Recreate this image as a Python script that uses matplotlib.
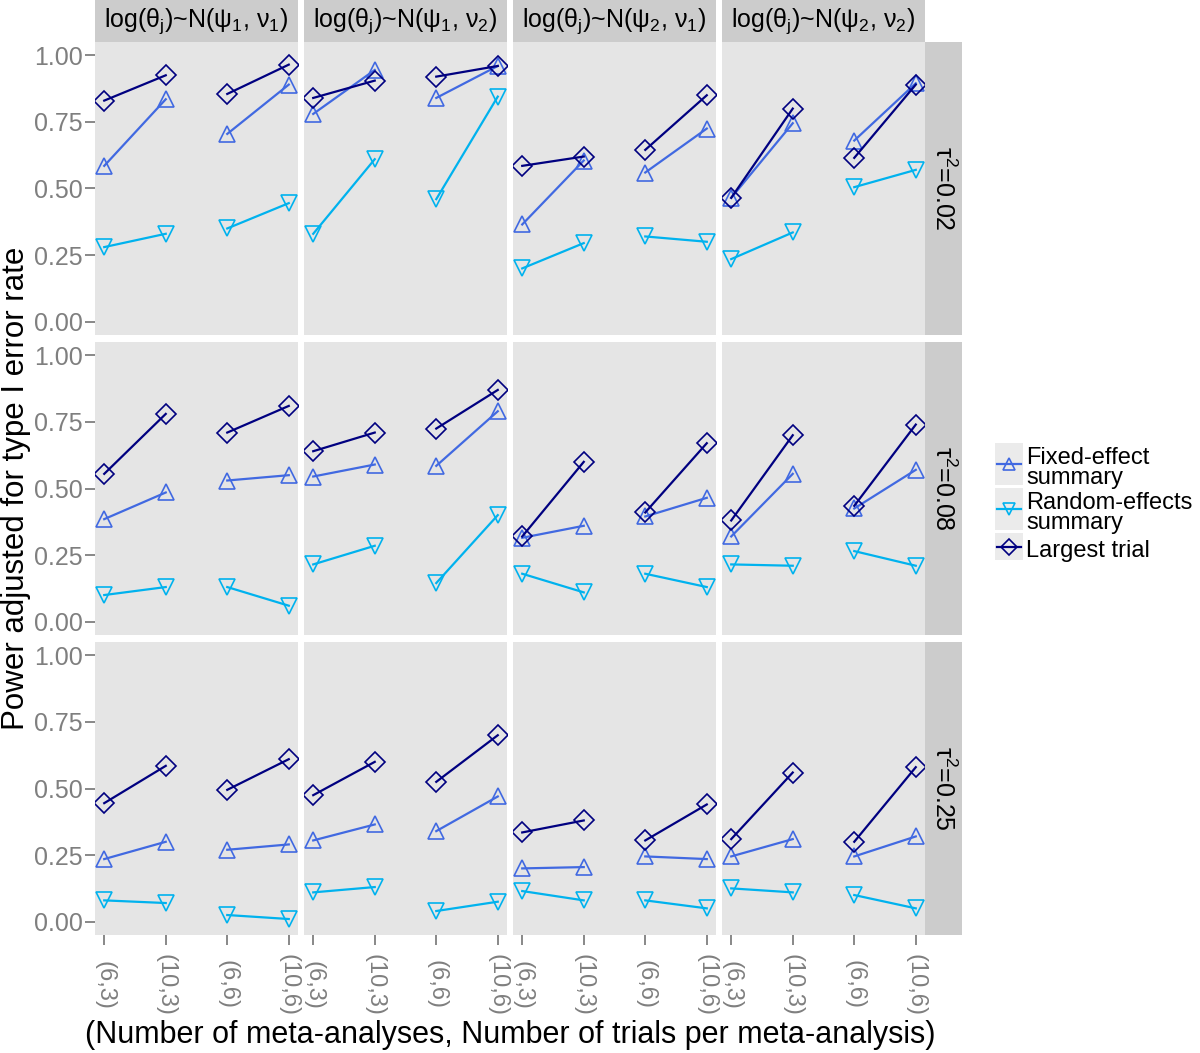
import numpy as np
import matplotlib
matplotlib.use("Agg")
import matplotlib.pyplot as plt
from matplotlib.patches import Rectangle
from matplotlib.lines import Line2D

plt.rcParams['font.family'] = ['Liberation Sans', 'DejaVu Sans']
plt.rcParams['mathtext.fontset'] = 'custom'
plt.rcParams['mathtext.rm'] = 'Liberation Sans'
plt.rcParams['mathtext.it'] = 'Liberation Sans'
plt.rcParams['mathtext.default'] = 'regular'

# x categories: (meta-analyses, trials per meta-analysis)
x_labels = ["(6,3)", "(10,3)", "(6,6)", "(10,6)"]
col_titles = [r"log($\theta_{j}$)~N($\psi_1$, $\nu_1$)",
              r"log($\theta_{j}$)~N($\psi_1$, $\nu_2$)",
              r"log($\theta_{j}$)~N($\psi_2$, $\nu_1$)",
              r"log($\theta_{j}$)~N($\psi_2$, $\nu_2$)"]
row_titles = [r"$\tau^2$=0.02", r"$\tau^2$=0.08", r"$\tau^2$=0.25"]

# values per row (tau^2), per column (distribution), 4 x-categories each
fixed = [
    [[0.585, 0.835, 0.705, 0.89], [0.78, 0.945, 0.84, 0.96],
     [0.365, 0.605, 0.56, 0.725], [0.465, 0.745, 0.68, 0.895]],
    [[0.385, 0.485, 0.53, 0.55], [0.545, 0.59, 0.585, 0.79],
     [0.315, 0.36, 0.395, 0.465], [0.32, 0.555, 0.425, 0.57]],
    [[0.235, 0.30, 0.27, 0.29], [0.305, 0.365, 0.34, 0.47],
     [0.20, 0.205, 0.245, 0.235], [0.245, 0.31, 0.245, 0.32]],
]
random_eff = [
    [[0.28, 0.33, 0.35, 0.445], [0.33, 0.61, 0.46, 0.845],
     [0.20, 0.295, 0.32, 0.30], [0.235, 0.335, 0.505, 0.57]],
    [[0.10, 0.13, 0.13, 0.06], [0.215, 0.285, 0.145, 0.40],
     [0.18, 0.11, 0.18, 0.13], [0.215, 0.21, 0.265, 0.21]],
    [[0.08, 0.07, 0.025, 0.01], [0.11, 0.13, 0.04, 0.075],
     [0.115, 0.08, 0.08, 0.05], [0.125, 0.11, 0.10, 0.05]],
]
largest = [
    [[0.83, 0.925, 0.855, 0.965], [0.84, 0.905, 0.92, 0.96],
     [0.585, 0.62, 0.645, 0.85], [0.465, 0.80, 0.615, 0.89]],
    [[0.555, 0.78, 0.71, 0.81], [0.64, 0.71, 0.725, 0.87],
     [0.32, 0.60, 0.41, 0.67], [0.38, 0.70, 0.435, 0.74]],
    [[0.445, 0.585, 0.495, 0.61], [0.475, 0.60, 0.525, 0.70],
     [0.335, 0.38, 0.305, 0.44], [0.31, 0.56, 0.30, 0.58]],
]

series = [("Fixed-effect\nsummary", fixed, "#4169E1", "^"),
          ("Random-effects\nsummary", random_eff, "#00B2EE", "v"),
          ("Largest trial", largest, "#000080", "D")]

W, H = 1200, 1053
fig = plt.figure(figsize=(W / 100, H / 100), dpi=100)

def box(x0, y0, x1, y1):
    return [x0 / W, 1 - y1 / H, (x1 - x0) / W, (y1 - y0) / H]

col_x = [(95, 298), (304, 507), (513, 716), (722, 925)]
row_y = [(42, 335), (342, 635), (642, 935)]
grey_txt = "#7f7f7f"
xs = np.arange(1, 5)

for r, (y0, y1) in enumerate(row_y):
    for c, (x0, x1) in enumerate(col_x):
        ax = fig.add_axes(box(x0, y0, x1, y1))
        ax.set_facecolor("#e5e5e5")
        for name, data, color, mk in series:
            vals = data[r][c]
            for seg in (slice(0, 2), slice(2, 4)):
                ax.plot(xs[seg], vals[seg], color=color, lw=1.6, marker=mk,
                        ms=11 if mk != "D" else 10, mfc="none", mec=color, mew=1.2)
        ax.set_xlim(0.85, 4.15)
        ax.set_ylim(-0.05, 1.05)
        for s in ax.spines.values():
            s.set_visible(False)
        ax.tick_params(color=grey_txt, length=7, width=1.3, labelsize=18,
                       labelcolor=grey_txt, pad=2)
        ax.set_yticks([0, 0.25, 0.5, 0.75, 1.0])
        ax.set_xticks(xs)
        if c == 0:
            ax.set_yticklabels(["0.00", "0.25", "0.50", "0.75", "1.00"])
        else:
            ax.tick_params(axis="y", left=False, labelleft=False)
        if r == 2:
            ax.set_xticklabels([])
            for xi, lab in zip(xs, x_labels):
                ax.text(xi, -50 / (y1 - y0), lab, transform=ax.get_xaxis_transform(),
                        rotation=270, ha="center", va="center", fontsize=17,
                        color=grey_txt)
        else:
            ax.tick_params(axis="x", bottom=False, labelbottom=False)
        if r == 0:
            sax = fig.add_axes(box(x0, 0, x1, 42))
            sax.set_facecolor("#cccccc")
            sax.set_xticks([]); sax.set_yticks([])
            for s in sax.spines.values():
                s.set_visible(False)
            sax.text(0.5, 0.5, col_titles[c], ha="center", va="center",
                     fontsize=18, transform=sax.transAxes)
    rax = fig.add_axes(box(925, y0, 962, y1))
    rax.set_facecolor("#cccccc")
    rax.set_xticks([]); rax.set_yticks([])
    for s in rax.spines.values():
        s.set_visible(False)
    rax.text(0.5, 0.5, row_titles[r], ha="center", va="center", rotation=270,
             fontsize=18, transform=rax.transAxes)

fig.text(16 / W, 1 - 488 / H, "Power adjusted for type I error rate",
         rotation=90, ha="center", va="center", fontsize=22.5)
fig.text(510 / W, 1 - 1035 / H,
         "(Number of meta-analyses, Number of trials per meta-analysis)",
         ha="center", va="center", fontsize=22)

# legend drawn by hand to mimic ggplot keys
lax = fig.add_axes([0, 0, 1, 1], facecolor="none")
lax.set_xlim(0, W); lax.set_ylim(H, 0); lax.axis("off")
key_y = [(443, 485), (488, 530), (533, 560)]
for (name, data, color, mk), (ky0, ky1) in zip(series, key_y):
    lax.add_patch(Rectangle((995, ky0), 28, ky1 - ky0, color="#ebebeb", lw=0))
    yc = (ky0 + ky1) / 2
    lax.add_line(Line2D([997, 1021], [yc, yc], color=color, lw=1.6))
    lax.plot([1009], [yc], marker=mk, ms=9 if mk != "D" else 8, mfc="none",
             mec=color, mew=1.2)
    lax.text(1026, yc + 4, name, ha="left", va="center", fontsize=17,
             linespacing=0.85)

fig.savefig("out.png", dpi=100)
